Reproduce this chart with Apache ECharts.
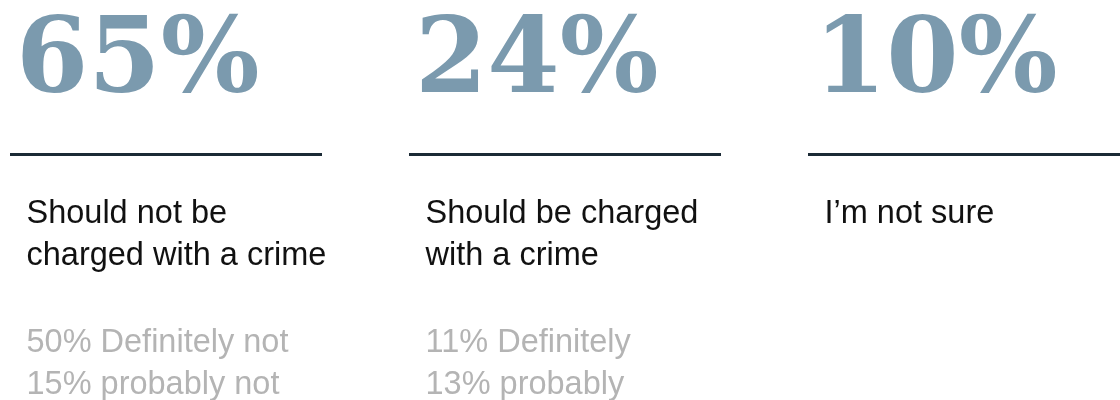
<!DOCTYPE html>
<html>
<head>
<meta charset="utf-8">
<script src="https://cdn.jsdelivr.net/npm/echarts@6/dist/echarts.min.js"></script>
<style>
html,body{margin:0;padding:0;background:#fff;}
#chart{width:1120px;height:400px;}
</style>
</head>
<body>
<div id="chart"></div>
<script>
// ---- data ----
const categories = ["Should not be\ncharged with a crime", "Should be charged\nwith a crime", "I\u2019m not sure"];
const totals = [65, 24, 10];
const definitelyValues = [50, 11, null];
const probablyValues = [15, 13, null];
const definitelyLabels = ["Definitely not", "Definitely", ""];
const probablyLabels = ["probably not", "probably", ""];

// ---- styles ----
const NUM_COLOR = '#7b9aae';
const RULE_COLOR = '#1b2a35';
const LABEL_COLOR = '#111111';
const SUB_COLOR = '#b4b4b4';
const SANS = '"Liberation Sans", Arial, Helvetica, sans-serif';
const SERIF = '"DejaVu Serif", Georgia, serif';

function subText(i) {
  const lines = [];
  if (definitelyValues[i] != null) lines.push(definitelyValues[i] + '% ' + definitelyLabels[i]);
  if (probablyValues[i] != null) lines.push(probablyValues[i] + '% ' + probablyLabels[i]);
  return lines.join('\n');
}

const seriesData = categories.map((c, i) => [i, totals[i]]);

const chart = echarts.init(document.getElementById('chart'), null, {renderer: 'canvas'});
chart.setOption({
  animation: false,
  backgroundColor: '#ffffff',
  grid: {left: 10, right: 312, top: 0, bottom: 0},
  xAxis: {type: 'value', min: 0, max: 2, show: false},
  yAxis: {type: 'value', min: 0, max: 1, show: false},
  series: [{
    type: 'custom',
    clip: false,
    data: seriesData,
    renderItem: function (params, api) {
      const i = api.value(0);
      const x0 = api.coord([i, 0])[0];
      const total = api.value(1);
      return {
        type: 'group',
        children: [
          {
            type: 'text',
            style: {
              text: total + '%',
              x: x0 + 6, y: 65,
              fill: NUM_COLOR,
              fontFamily: SERIF, fontWeight: 'bold', fontSize: 104,
              align: 'left', verticalAlign: 'middle'
            }
          },
          {
            type: 'line',
            shape: {x1: x0, y1: 154.5, x2: x0 + 312, y2: 154.5},
            style: {stroke: RULE_COLOR, lineWidth: 3}
          },
          {
            type: 'text',
            style: {
              text: categories[i],
              x: x0 + 16.5, y: 193,
              fill: LABEL_COLOR,
              fontFamily: SANS, fontSize: 32.5, lineHeight: 42,
              align: 'left', verticalAlign: 'top'
            }
          },
          {
            type: 'text',
            style: {
              text: subText(i),
              x: x0 + 16.5, y: 322,
              fill: SUB_COLOR,
              fontFamily: SANS, fontSize: 32.5, lineHeight: 42,
              align: 'left', verticalAlign: 'top'
            }
          }
        ]
      };
    }
  }]
});
</script>
</body>
</html>
